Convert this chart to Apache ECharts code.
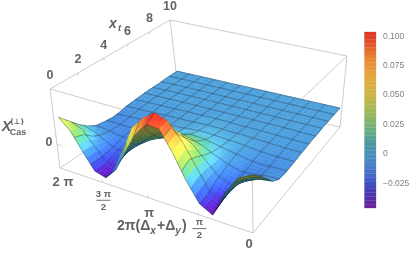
<!DOCTYPE html>
<html><head><meta charset="utf-8">
<style>html,body{margin:0;padding:0;background:#fff}#c{width:415px;height:254px}</style>
<script src="https://cdn.jsdelivr.net/npm/echarts@6/dist/echarts.min.js"></script>
</head><body><div id="c"></div>
<script>
// values: chi x 1000, rows by x_t (0..10), columns by 2pi(Dx+Dy) (0..2pi)
const chiRow00=[55,42,10,-37,-25,9,52,88,90,66,28,-13,-34,-28,2,35,54];
const chiRow01=[40,32,6,-32,-22,18,60,92,100,84,60,12,-33,-27,0,28,37];
const chiRow02=[23,16,0,-24,-14,16,44,62,66,52,32,5,-21,-22,-6,10,20];
const chiRow03=[5,2,-8,-15,-9,10,30,42,44,30,16,0,-14,-16,-9,0,6];
const chiRow04=[-4,-5,-9,-10,-4,6,17,25,26,15,7,-2,-9,-11,-9,-5,-3];
const chiRow05=[-6,-6,-8,-6,-1,4,10,14,15,8,4,-1,-6,-8,-8,-7,-6];
const chiRow06=[-5,-5,-5,-3,0,3,5,7,8,5,2,-1,-4,-5,-6,-6,-8];
const chiRow07=[-4,-4,-3,-2,1,2,3,4,4,2,1,0,-2,-3,-4,-5,-7];
const chiRow08=[-3,-3,-2,-1,0,1,1,2,2,1,0,0,-1,-2,-3,-3,-4];
const chiRow09=[-2,-2,-1,-1,0,0,0,1,1,1,0,0,-1,-1,-2,-2,-3];
const chiRow10=[-1,-1,-1,0,0,0,0,0,1,0,0,0,0,-1,-1,-1,-2];
const chiRow11=[-1,-1,0,0,0,0,0,0,0,0,0,0,0,0,-1,-1,-1];
const chiRow12=[0,0,0,0,0,0,0,0,0,0,0,0,0,0,0,-1,-1];
const chiRow13=[0,0,0,0,0,0,0,0,0,0,0,0,0,0,0,0,-1];
const chiRow14=[0,0,0,0,0,0,0,0,0,0,0,0,0,0,0,0,0];
const chiRow15=[0,0,0,0,0,0,0,0,0,0,0,0,0,0,0,0,0];
const chiRow16=[0,0,0,0,0,0,0,0,0,0,0,0,0,0,0,0,0];
const chi=[chiRow00,chiRow01,chiRow02,chiRow03,chiRow04,chiRow05,chiRow06,chiRow07,chiRow08,chiRow09,chiRow10,chiRow11,chiRow12,chiRow13,chiRow14,chiRow15,chiRow16];

const xtTicks=[0,2,4,6,8,10];
const dTicks=[0,0.25,0.5,0.75,1];
const dTickLabels=['0',['π','2'],'π',['3 π','2'],'2 π'];
const dLabelShift=[11,-4,16,0,14];
const zTicks=[0];
const legendTicks=[-0.025,0,0.025,0.05,0.075,0.1];
const meshCells=12;

// view
const boxBottom=[[253,233],[60,168],[178,89],[340,127]];
const boxTop=[[252,146],[50,89],[170,20],[347,56]];
const zMin=-45,zMax=105,uSpan=0.97,vSpan=0.97;
function homog(p){
  const [[x0,y0],[x1,y1],[x2,y2],[x3,y3]]=p;
  const dx1=x1-x2,dx2=x3-x2,sx=x0-x1+x2-x3,dy1=y1-y2,dy2=y3-y2,sy=y0-y1+y2-y3;
  const den=dx1*dy2-dx2*dy1,g=(sx*dy2-dx2*sy)/den,h=(dx1*sy-sx*dy1)/den;
  const a=x1-x0+g*x1,b=x3-x0+h*x3,d=y1-y0+g*y1,e=y3-y0+h*y3;
  return (u,v)=>{const q=g*u+h*v+1;return [(a*u+b*v+x0)/q,(d*u+e*v+y0)/q];};
}
const hB=homog(boxBottom),hT=homog(boxTop);
function proj(u,v,w){const b=hB(u,v),t=hT(u,v);return [b[0]+(t[0]-b[0])*w,b[1]+(t[1]-b[1])*w];}
const toW=z=>(z-zMin)/(zMax-zMin);

// colour
const surfaceStops=[[-38,'#6a0fa8'],[-30,'#5a22c8'],[-22,'#3b4be0'],[-11,'#3f7fe8'],[0,'#4aa0dc'],[6,'#5cc6f0'],[15,'#5fd0b0'],[28,'#8ed46a'],[42,'#cfe05a'],[56,'#f5e050'],[76,'#fa9a3c'],[95,'#f03a28'],[105,'#e83024']];
const legendStops=[[-46,'#6e2090'],[-35,'#4a35b0'],[-25,'#3e4fc0'],[-10,'#4a80cc'],[0,'#4a90b8'],[10,'#4f9a9e'],[20,'#6cae84'],[35,'#9ab85c'],[50,'#ccb648'],[65,'#e2a83c'],[80,'#e88c34'],[95,'#e24e2a'],[104,'#de3028']];
const hex=s=>[1,3,5].map(i=>parseInt(s.substr(i,2),16));
function ramp(st,z){
  if(z<=st[0][0])return hex(st[0][1]);
  for(let i=1;i<st.length;i++) if(z<=st[i][0]){
    const t=(z-st[i-1][0])/(st[i][0]-st[i-1][0]),a=hex(st[i-1][1]),b=hex(st[i][1]);
    return a.map((c,n)=>c+(b[n]-c)*t);
  }
  return hex(st[st.length-1][1]);
}
const css=(c,f)=>'rgb('+c.map(v=>Math.max(0,Math.min(255,Math.round(v*f)))).join(',')+')';

const N=chi.length-1,M=chi[0].length-1,SUB=3;
const cells=[];
for(let j=N-1;j>=0;j--)for(let k=M-1;k>=0;k--)cells.push([j,k]);

function surfacePoint(j,k,s,t,coord){ // s across columns, t across rows (cell fractions)
  const z=(chi[j][k]*(1-s)*(1-t)+chi[j][k+1]*s*(1-t)+chi[j+1][k]*(1-s)*t+chi[j+1][k+1]*s*t);
  return {z,p:coord(proj((k+s)/M*uSpan,(j+t)/N*vSpan,toW(z)))};
}
function meshInCell(i,total){ // fractions of data cell i crossed by a mesh line
  const out=[];
  for(let m=0;m<=meshCells;m++){
    const c=m*total/meshCells,s=c-i;
    if((s>1e-6&&s<=1+1e-6)||(i===0&&m===0))out.push(Math.min(1,Math.max(0,s)));
  }
  return out;
}
const meshStyle={fill:'none',stroke:'rgba(35,45,60,0.6)',lineWidth:0.7};
function renderCell(params,api){
  const j=api.value(0),k=api.value(1),coord=a=>api.coord(a),kids=[];
  for(let b=SUB-1;b>=0;b--)for(let a=SUB-1;a>=0;a--){
    const P=[surfacePoint(j,k,a/SUB,b/SUB,coord),surfacePoint(j,k,(a+1)/SUB,b/SUB,coord),surfacePoint(j,k,(a+1)/SUB,(b+1)/SUB,coord),surfacePoint(j,k,a/SUB,(b+1)/SUB,coord)];
    const zc=(P[0].z+P[1].z+P[2].z+P[3].z)/4;
    const pts=P.map(o=>o.p);
    let area=0;for(let i=0;i<4;i++){const q=pts[i],r=pts[(i+1)%4];area+=q[0]*r[1]-r[0]*q[1];}
    const du=((P[1].z+P[2].z-P[0].z-P[3].z)/2)*SUB*M/(zMax-zMin)*0.5/uSpan;
    const dv=((P[3].z+P[2].z-P[0].z-P[1].z)/2)*SUB*N/(zMax-zMin)*0.5/vSpan;
    const len=Math.sqrt(du*du+dv*dv+1);
    const lit=1+0.32*(0.55*du+0.25*dv)/len+0.12*(1-1/len);
    const back=area<0; // the flat plane is wound positively on screen
    const col=ramp(surfaceStops,zc);
    const fill=back?css(col,0.5):css(col,Math.max(0.82,Math.min(1.12,lit)));
    kids.push({type:'polygon',shape:{points:pts},style:{fill:fill,stroke:fill,lineWidth:0.4},silent:true});
  }
  meshInCell(k,M).forEach(s=>{
    const a=surfacePoint(j,k,s,0,coord).p,b=surfacePoint(j,k,s,1,coord).p;
    kids.push({type:'line',shape:{x1:a[0],y1:a[1],x2:b[0],y2:b[1]},style:meshStyle,silent:true});
  });
  meshInCell(j,N).forEach(t=>{
    const a=surfacePoint(j,k,0,t,coord).p,b=surfacePoint(j,k,1,t,coord).p;
    kids.push({type:'line',shape:{x1:a[0],y1:a[1],x2:b[0],y2:b[1]},style:meshStyle,silent:true});
  });
  return {type:'group',children:kids};
}

const boxLines=[[boxTop[0],boxTop[1]],[boxTop[1],boxTop[2]],[boxTop[2],boxTop[3]],[boxTop[3],boxTop[0]],
 [boxBottom[0],boxBottom[1]],[boxBottom[1],boxBottom[2]],[boxBottom[2],boxBottom[3]],[boxBottom[3],boxBottom[0]],
 [boxBottom[0],boxTop[0]],[boxBottom[1],boxTop[1]],[boxBottom[2],boxTop[2]],[boxBottom[3],boxTop[3]]];
const lineColor='#c6c6c6';
function renderBox(params,api){
  const l=boxLines[api.value(0)];
  return {type:'line',shape:{x1:api.coord(l[0])[0],y1:api.coord(l[0])[1],x2:api.coord(l[1])[0],y2:api.coord(l[1])[1]},style:{stroke:lineColor,lineWidth:0.9},silent:true};
}
const labelColor='#636363',LS='"Liberation Sans"';
const tickFont='bold 12.5px '+LS;
function txt(t,x,y,font,col,align){return {type:'text',x:x,y:y,style:{text:t,font:font||tickFont,fill:col||labelColor,align:align||'center',verticalAlign:'middle'},silent:true};}
function line(a,b,w){return {type:'line',shape:{x1:a[0],y1:a[1],x2:b[0],y2:b[1]},style:{stroke:lineColor,lineWidth:w||0.8},silent:true};}
function renderAxes(params,api){
  if(params.dataIndex>0)return null;
  const c=a=>api.coord(a),kids=[];
  xtTicks.forEach(x=>{
    const r=c(hT(1,x/10));
    kids.push(txt(String(x),r[0],r[1]-13));
    const s=c(proj(1,x/10,1-0.035));
    if(x>0&&x<10)kids.push(line(r,s));
  });
  dTicks.forEach((d,i)=>{
    const r=c(hB(d,0)),s=c(proj(d,0,0.035));
    if(i>0&&i<4)kids.push(line(r,s));
    const lab=dTickLabels[i],dy=dLabelShift[i];
    if(Array.isArray(lab)){
      const bx=r[0]+1,f='bold 9.5px '+LS;
      kids.push(txt(lab[0],bx,r[1]+12+dy,f),txt(lab[1],bx,r[1]+25+dy,f));
      kids.push({type:'line',shape:{x1:bx-7,y1:r[1]+18+dy,x2:bx+7,y2:r[1]+18+dy},style:{stroke:labelColor,lineWidth:0.9},silent:true});
    } else {
      const dx=i===0?-4:(i===4?3:1);
      kids.push(txt(lab,r[0]+dx,r[1]+dy,'bold 13px '+LS));
    }
  });
  zTicks.forEach(z=>{
    const r=c(proj(1,0,toW(z))),s=c(proj(0.97,0,toW(z)));
    kids.push(line(r,s));
    kids.push(txt(String(z),r[0]-8,r[1]-2));
  });
  // axis titles
  const X=v=>c([v,0])[0],Y=v=>c([0,v])[1];
  kids.push(txt('x',X(113),Y(24),'italic bold 14px '+LS),txt('t',X(119.5),Y(28),'italic bold 9.5px '+LS));
  kids.push(txt('X',X(6.5),Y(127),'italic bold 14.5px '+LS));
  kids.push(txt('(⊥)',X(17),Y(122.5),'bold 7.5px "DejaVu Sans"'));
  kids.push(txt('Cas',X(18),Y(133),'bold 9px '+LS));
  const big='bold 14px '+LS,sub='italic bold 10px '+LS;
  kids.push(txt('2π(Δ',X(117),Y(226),big,labelColor,'left'));
  kids.push(txt('x',X(153),Y(231),sub));
  kids.push(txt('+Δ',X(157),Y(226),big,labelColor,'left'));
  kids.push(txt('y',X(178),Y(231),sub));
  kids.push(txt(')',X(182),Y(226),big,labelColor,'left'));
  return {type:'group',children:kids};
}

// legend strips
const legendMin=-0.046,legendMax=0.1037,legendStrips=46;
const stripIdx=Array.from({length:legendStrips},(_,i)=>[i]);
function renderStrip(params,api){
  const i=api.value(0),h=(legendMax-legendMin)/legendStrips;
  const a=legendMin+i*h,b=a+h,p0=api.coord([0,a]),p1=api.coord([0,b]);
  const x=params.coordSys.x,w=params.coordSys.width,col=css(ramp(legendStops,(a+b)/2*1000),1);
  return {type:'rect',shape:{x:x,y:p1[1],width:w,height:p0[1]-p1[1]},style:{fill:col,stroke:col,lineWidth:0.3},silent:true};
}

const chart=echarts.init(document.getElementById('c'),null,{renderer:'canvas',width:415,height:254});
chart.setOption({
  animation:false,backgroundColor:'#fff',
  grid:[{left:0,top:0,width:415,height:254,show:false},{left:364.5,top:32,width:11.5,height:176,show:false}],
  xAxis:[{type:'value',min:0,max:415,show:false,gridIndex:0},{type:'value',min:0,max:1,show:false,gridIndex:1}],
  yAxis:[{type:'value',min:0,max:254,inverse:true,show:false,gridIndex:0},
    {type:'value',gridIndex:1,min:legendMin,max:legendMax,position:'right',splitLine:{show:false},axisLine:{show:false},
     axisTick:{show:true,length:2,customValues:legendTicks,lineStyle:{color:'#bbb',width:0.7}},
     axisLabel:{show:true,margin:7,customValues:legendTicks,fontFamily:'Liberation Sans',fontSize:8.5,color:'#808080',
       formatter:v=>v===0?'0':(v<0?'−':'')+Math.abs(v).toFixed(3)}}],
  series:[
    {type:'custom',name:'box',xAxisIndex:0,yAxisIndex:0,data:boxLines.map((_,i)=>[i]),renderItem:renderBox,clip:false,silent:true,z:1,progressive:0},
    {type:'custom',name:'surface',xAxisIndex:0,yAxisIndex:0,data:cells,renderItem:renderCell,clip:false,silent:true,z:2,progressive:0},
    {type:'custom',name:'labels',xAxisIndex:0,yAxisIndex:0,data:[[0]],renderItem:renderAxes,clip:false,silent:true,z:3,progressive:0},
    {type:'custom',name:'legend',xAxisIndex:1,yAxisIndex:1,data:stripIdx,renderItem:renderStrip,clip:false,silent:true,z:2,progressive:0}
  ]
});
</script></body></html>
